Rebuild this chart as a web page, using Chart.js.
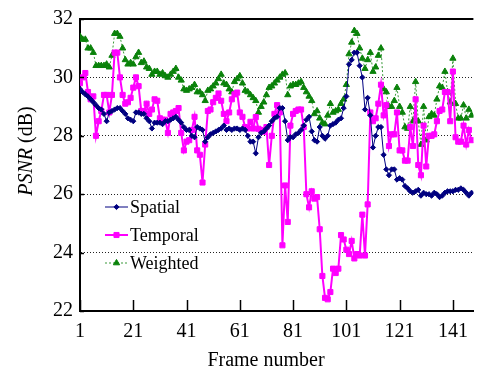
<!DOCTYPE html>
<html><head><meta charset="utf-8">
<script src="https://cdn.jsdelivr.net/npm/chart.js@4.4.1/dist/chart.umd.min.js"></script>
<style>html,body{margin:0;padding:0;background:#fff;}#wrap{width:478px;height:374px;position:relative;}</style>
</head><body><div id="wrap"><canvas id="c" width="478" height="374"></canvas></div>
<script>
const frames = Array.from({length:148},(_, i)=>i+1);
const spatial = [29.6,29.5,29.42,29.35,29.25,29.15,29.05,28.95,28.9,28.75,28.5,28.8,28.85,28.9,28.95,28.95,28.85,28.75,28.6,28.55,28.5,28.8,28.8,28.75,28.75,28.6,28.5,28.25,28.45,28.45,28.45,28.4,28.5,28.5,28.55,28.6,28.65,28.55,28.45,28.3,28.2,28.2,28.0,27.95,28.3,28.25,28.2,27.8,27.95,28.05,28.1,28.15,28.2,28.25,28.35,28.2,28.25,28.2,28.25,28.25,28.2,28.25,28.2,28.0,27.8,27.8,27.4,27.95,28.1,28.15,28.25,28.35,28.5,28.6,28.65,28.95,28.95,28.5,27.85,27.95,27.95,28.05,28.1,28.2,28.35,28.55,28.65,28.15,27.85,27.8,28.3,28.0,27.9,28.0,28.35,28.4,28.45,28.55,28.6,28.95,29.35,30.45,30.6,30.85,30.85,30.4,30.0,28.9,29.3,28.7,27.6,28.0,28.3,28.3,27.35,26.85,26.65,26.85,26.85,26.5,26.55,26.5,26.28,26.2,26.1,26.05,26.1,26.15,25.95,26.05,26.0,26.0,25.95,26.05,26.0,25.9,25.95,26.05,26.1,26.1,26.1,26.15,26.15,26.2,26.15,26.05,25.95,26.05];
const temporal = [29.8,30.0,30.15,29.5,29.25,29.35,28.0,28.5,28.85,29.4,29.4,28.8,29.4,30.85,30.85,30.0,29.4,29.1,29.15,29.3,29.65,30.0,29.7,28.85,28.85,29.1,28.75,28.9,29.25,29.2,28.6,28.55,28.55,28.1,28.75,28.8,28.85,28.95,28.1,27.5,27.8,27.85,28.2,28.65,27.5,27.35,26.4,27.7,28.85,28.9,29.15,29.3,29.45,29.2,28.75,28.5,28.8,29.25,29.42,29.48,28.8,28.65,28.3,28.25,28.48,28.25,28.64,28.24,28.2,28.14,28.3,27.0,28.0,28.75,29.05,28.8,24.25,26.3,25.05,28.35,28.75,28.85,28.9,28.9,28.3,26.0,25.55,26.1,25.85,25.9,24.8,23.2,22.45,22.4,22.65,23.45,23.3,23.45,24.6,24.45,24.1,23.95,24.4,23.8,23.95,23.9,25.3,23.9,25.65,28.8,28.5,28.6,29.1,29.75,28.7,29.05,27.65,28.05,28.05,28.8,27.5,27.5,27.15,27.15,28.3,27.65,29.25,27.0,26.65,28.35,26.95,28.0,28.0,28.05,28.5,28.85,28.9,29.5,29.5,28.5,30.2,27.95,27.8,27.8,28.35,27.7,28.2,27.85];
const weighted = [31.4,31.3,31.3,31.0,31.0,30.85,30.4,30.4,30.4,30.4,30.45,30.35,30.75,31.5,31.5,31.4,31.0,30.6,30.45,30.5,30.45,30.7,30.85,30.5,30.55,30.35,30.3,30.1,30.2,30.2,30.1,30.15,30.05,30.0,30.1,30.2,30.3,30.0,29.9,29.6,29.55,29.6,29.65,29.75,29.5,29.5,29.4,29.2,29.55,29.6,29.7,29.8,29.95,30.1,29.8,29.75,29.6,29.5,29.85,29.95,30.05,29.8,29.55,29.5,29.4,29.3,29.2,28.8,29.0,29.15,29.4,29.65,29.7,29.8,29.9,30.0,30.1,30.15,29.4,29.7,29.75,29.75,29.8,29.85,29.65,29.5,29.35,29.2,28.75,28.85,28.6,28.45,28.4,28.7,29.1,28.8,28.85,28.9,29.1,29.25,29.75,30.8,31.2,31.6,31.5,31.0,30.65,30.3,30.6,30.85,30.2,30.35,30.75,31.0,29.6,29.5,29.0,29.0,29.2,29.65,29.0,28.8,28.3,28.25,29.0,28.5,29.85,28.5,27.7,29.0,27.85,28.65,28.75,28.7,29.25,29.7,29.65,30.2,29.5,29.15,30.65,29.1,28.6,28.6,29.05,28.6,28.9,28.7];
const xTickValues = [1,21,41,61,81,101,121,141];
const yTickValues = [22,24,26,28,30,32];
const seriesNames = ['Spatial','Temporal','Weighted'];

const FONT = "'Liberation Serif','Times New Roman',serif";
const pts = arr => arr.map((v,i)=>({x:frames[i], y:v}));

const decor = {
  id:'decor',
  afterDraw(chart){
    const {ctx, chartArea:a, scales:{x,y}} = chart;
    ctx.save();
    // top border
    ctx.strokeStyle='#000'; ctx.lineWidth=2;
    ctx.beginPath(); ctx.moveTo(a.left-1,a.top); ctx.lineTo(a.right,a.top); ctx.stroke();
    // inward ticks
    ctx.lineWidth=1.5;
    xTickValues.forEach(v=>{const px=Math.round(x.getPixelForValue(v))+0.5;ctx.beginPath();ctx.moveTo(px,a.bottom);ctx.lineTo(px,a.bottom-11);ctx.stroke();});
    yTickValues.forEach(v=>{const py=Math.round(y.getPixelForValue(v))+0.5;ctx.beginPath();ctx.moveTo(a.left,py);ctx.lineTo(a.left+4,py);ctx.stroke();});
    // legend
    const ly=[207,235,263];
    chart.data.datasets.forEach((ds,i)=>{
      ctx.save();
      ctx.strokeStyle=ds.borderColor; ctx.lineWidth=ds.borderWidth;
      ctx.setLineDash(ds.borderDash||[]);
      ctx.beginPath(); ctx.moveTo(105,ly[i]); ctx.lineTo(128,ly[i]); ctx.stroke();
      ctx.setLineDash([]);
      ctx.fillStyle=ds.pointBackgroundColor; ctx.strokeStyle=ds.pointBorderColor; ctx.lineWidth=1;
      Chart.helpers.drawPoint(ctx,{pointStyle:ds.pointStyle,radius:ds.pointRadius,borderWidth:1,rotation:0},116.5,ly[i]);
      ctx.restore();
      ctx.fillStyle='#000'; ctx.font='18px '+FONT; ctx.textBaseline='middle'; ctx.textAlign='left';
      ctx.fillText(ds.label,130,ly[i]+1);
    });
    // x title
    ctx.font='20px '+FONT; ctx.textAlign='center'; ctx.textBaseline='middle';
    ctx.fillText('Frame number',266,361);
    // y title
    ctx.translate(27,151); ctx.rotate(-Math.PI/2);
    ctx.font='italic 20px '+FONT; const w1=ctx.measureText('PSNR').width;
    ctx.font='20px '+FONT; const w2=ctx.measureText(' (dB)').width;
    const s=-(w1+w2)/2;
    ctx.textAlign='left';
    ctx.font='italic 20px '+FONT; ctx.fillText('PSNR',s,0);
    ctx.font='20px '+FONT; ctx.fillText(' (dB)',s+w1,0);
    ctx.restore();
  }
};

new Chart(document.getElementById('c'),{
  type:'line',
  data:{datasets:[
    {label:seriesNames[0],data:pts(spatial),borderColor:'#000080',borderWidth:1,pointStyle:'rectRot',pointRadius:2.6,pointBackgroundColor:'#000080',pointBorderColor:'#000080',pointBorderWidth:1,tension:0},
    {label:seriesNames[1],data:pts(temporal),borderColor:'#ff00ff',borderWidth:2,pointStyle:'rect',pointRadius:3.6,pointBackgroundColor:'#ff00ff',pointBorderColor:'#ff00ff',pointBorderWidth:1,tension:0},
    {label:seriesNames[2],data:pts(weighted),borderColor:'#3a9a3a',borderWidth:1,borderDash:[2,2],pointStyle:'triangle',pointRadius:3.6,pointBackgroundColor:'#0a820a',pointBorderColor:'#0a820a',pointBorderWidth:1,tension:0}
  ]},
  options:{
    responsive:false, animation:false, devicePixelRatio:1,
    layout:{padding:{top:13,right:0,left:0,bottom:0}},
    plugins:{legend:{display:false},tooltip:{enabled:false}},
    elements:{point:{hoverRadius:0}},
    scales:{
      x:{type:'linear',min:1,max:148.7,
        afterBuildTicks:s=>{s.ticks=xTickValues.map(v=>({value:v}));},
        afterFit:s=>{s.height=63;},
        grid:{display:false,drawTicks:false},
        border:{display:true,color:'#000',width:2},
        ticks:{font:{family:FONT,size:20},color:'#000',padding:9,maxRotation:0,autoSkip:false}
      },
      y:{type:'linear',min:22,max:32,
        afterBuildTicks:s=>{s.ticks=yTickValues.map(v=>({value:v}));},
        afterFit:s=>{s.width=80;},
        grid:{drawTicks:false,lineWidth:1,color:c=>(c.tick&&(c.tick.value===22||c.tick.value===32))?'rgba(0,0,0,0)':'#222'},
        border:{display:true,color:'#000',width:2,dash:[1,2]},
        ticks:{font:{family:FONT,size:20},color:'#000',padding:7}
      }
    }
  },
  plugins:[decor]
});
</script></body></html>
